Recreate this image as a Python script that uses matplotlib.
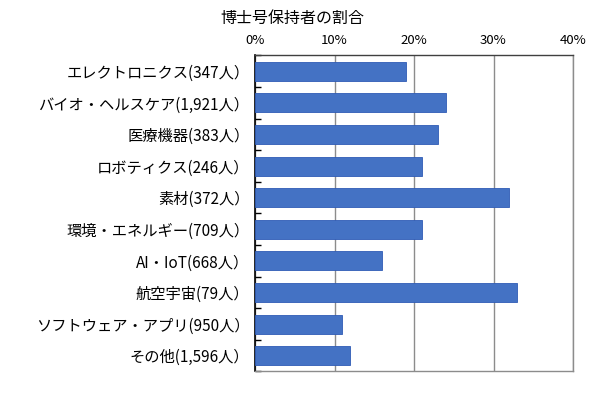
import matplotlib
matplotlib.use("Agg")
import matplotlib.pyplot as plt
import numpy as np

plt.rcParams['font.family'] = ['Noto Sans CJK JP', 'DejaVu Sans']

categories = ["エレクトロニクス(347人）", "バイオ・ヘルスケア(1,921人）", "医療機器(383人）",
              "ロボティクス(246人）", "素材(372人）", "環境・エネルギー(709人）",
              "AI・IoT(668人）", "航空宇宙(79人）", "ソフトウェア・アプリ(950人）", "その他(1,596人）"]
values = [19, 24, 23, 21, 32, 21, 16, 33, 11, 12]
xticks = [0, 10, 20, 30, 40]
xticklabels = ["0%", "10%", "20%", "30%", "40%"]
title = "博士号保持者の割合"

fig = plt.figure(figsize=(6.0, 3.98), dpi=100)
ax = fig.add_axes([0.425, 0.0666, 0.53, 0.794])

y = np.arange(len(categories))
ax.barh(y, values, height=0.6, color="#4472C4", edgecolor="#2F5BB5", linewidth=0.6, zorder=3)
ax.set_ylim(len(categories) - 0.5, -0.5)
ax.set_xlim(0, 40)

ax.set_yticks(y)
ax.set_yticklabels(categories, fontsize=11)
ax.set_yticks(np.arange(-0.5, len(categories), 1.0), minor=True)
ax.tick_params(axis='y', which='major', length=0, pad=4)
ax.tick_params(axis='y', which='minor', direction='in', length=4, width=1.0, color='black')

ax.xaxis.tick_top()
ax.set_xticks(xticks)
ax.set_xticklabels(xticklabels, fontsize=9.5)
ax.tick_params(axis='x', length=0, pad=6)

ax.grid(axis='x', color='#8c8c8c', linewidth=1.0, zorder=0)

for side in ['right', 'bottom']:
    ax.spines[side].set_color('#8c8c8c')
    ax.spines[side].set_linewidth(1.0)
ax.spines['left'].set_color('black')
ax.spines['left'].set_linewidth(1.2)
ax.spines['top'].set_color('#404040')
ax.spines['top'].set_linewidth(1.0)

fig.text(292 / 600, 1 - 18 / 398, title, ha='center', va='center', fontsize=11.5)

fig.savefig("out.png", dpi=100)
